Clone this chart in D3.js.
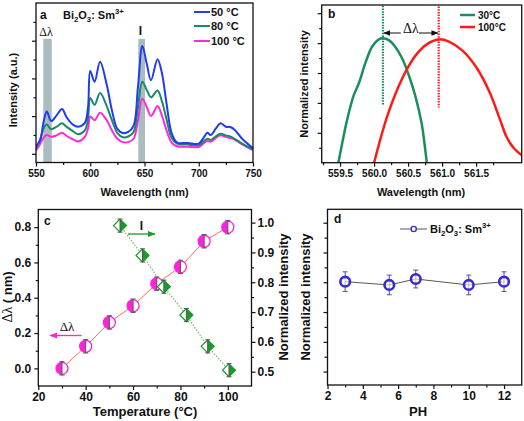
<!DOCTYPE html>
<html><head><meta charset="utf-8">
<script src="https://cdn.jsdelivr.net/npm/d3@7"></script>
<style>
body{margin:0;background:#fff}
svg{display:block}
text{font-family:"Liberation Sans",Arial,sans-serif;font-weight:bold;fill:#111}
.serif{font-family:"Liberation Serif","Times New Roman",serif;font-weight:normal}
</style>
</head><body>
<svg id="fig" width="524" height="421"></svg>
<script>
// ---------- Panel a: emission spectra ----------
const specWl  = [550,554,557,560,564,569,574,578,583,589,595,598,600,604,609,615,620,625,630,635,640,644,648,652,656,662,666,670,675,680,690,700,705,708,711,716,720,725,729,733,740,750];
const spec50  = [0.20,0.37,0.85,1.12,0.87,1.02,1.19,0.98,0.80,0.72,0.82,1.25,2.20,1.91,2.44,1.86,1.15,0.66,0.55,0.58,0.75,1.78,2.86,2.40,1.95,2.51,2.15,1.40,0.55,0.30,0.29,0.27,0.45,0.56,0.50,0.68,0.81,0.72,0.71,0.64,0.40,0.15];
const spec80  = [0.14,0.40,0.68,0.78,0.65,0.72,0.81,0.72,0.62,0.52,0.62,0.95,1.48,1.30,1.61,1.28,0.89,0.55,0.44,0.46,0.58,1.24,1.91,1.70,1.50,1.68,1.40,0.95,0.42,0.27,0.25,0.23,0.34,0.40,0.37,0.47,0.53,0.49,0.46,0.40,0.27,0.12];
const spec100 = [0.09,0.27,0.43,0.50,0.45,0.49,0.56,0.48,0.40,0.33,0.45,0.68,0.99,0.89,1.09,0.90,0.62,0.40,0.31,0.31,0.40,0.89,1.46,1.25,1.00,1.27,1.02,0.65,0.30,0.20,0.19,0.18,0.29,0.34,0.32,0.43,0.49,0.45,0.42,0.38,0.25,0.10];
const specSeries = ["50 °C","80 °C","100 °C"];
const specTicks = [550,600,650,700,750];
const bandDl = [556.7,564.5];
const bandI  = [644.3,650.5];

// ---------- Panel b: normalized peak ----------
const bWl30  = [559.475,559.54,559.60,559.70,559.775,559.87,559.97,560.07,560.13,560.215,560.31,560.41,560.51,560.61,560.70,560.735,560.775];
const bVal30 = [0.00,0.15,0.28,0.45,0.53,0.664,0.776,0.825,0.832,0.82,0.776,0.70,0.586,0.44,0.26,0.15,0.00];
const bWl100  = [560.00,560.10,560.20,560.35,560.50,560.65,560.80,560.95,561.10,561.30,561.50,561.70,561.85,561.95,562.05,562.17];
const bVal100 = [0.00,0.17,0.32,0.50,0.64,0.74,0.80,0.825,0.81,0.75,0.64,0.47,0.29,0.17,0.10,0.05];
const bSeries = ["30°C","100°C"];
const bTicks = [559.5,560.0,560.5,561.0,561.5];
const bPeaks = [560.13,560.95];

// ---------- Panel c: temperature dependence ----------
const cTemp  = [30,40,50,60,70,80,90,100];
const cShift = [0.0,0.125,0.26,0.355,0.48,0.575,0.72,0.80];
const cShiftErr = [0.038,0.038,0.038,0.038,0.038,0.038,0.038,0.038];
const cTempI = [54.5,64,73,82.5,91.5,100.5];
const cInt   = [0.99,0.89,0.785,0.69,0.585,0.505];
const cIntErr = [0.022,0.022,0.022,0.022,0.022,0.022];
const cXTicks = [20,40,60,80,100];
const cLTicks = [0.0,0.2,0.4,0.6,0.8];
const cRTicks = [0.5,0.6,0.7,0.8,0.9,1.0];

// ---------- Panel d: pH stability ----------
const dPH  = [3,5.5,7,10,12];
const dInt = [0.802,0.791,0.811,0.791,0.802];
const dErr = [0.033,0.033,0.030,0.033,0.033];
const dXTicks = [2,4,6,8,10,12];

const svg = d3.select("#fig");
const FONT = '"Liberation Sans",Arial,sans-serif';

function frame(x0,y0,x1,y1){
  svg.append("rect").attr("x",x0).attr("y",y0).attr("width",x1-x0).attr("height",y1-y0)
    .attr("fill","none").attr("stroke","#111").attr("stroke-width",1.3);
}
function drawAxis(axis, tx, ty, fs, minor){
  const g = svg.append("g").attr("transform",`translate(${tx},${ty})`).call(axis);
  g.select(".domain").remove();
  g.selectAll(".tick line").attr("stroke","#111").attr("stroke-width",1.2);
  g.selectAll("text").attr("font-size",fs).attr("font-family",FONT).attr("font-weight","bold").attr("fill","#111");
  if(minor) g.selectAll("text").remove();
  return g;
}
function subText(parent, x, y, fs, anchor){
  const t = parent.append("text").attr("x",x).attr("y",y).attr("font-size",fs).attr("text-anchor",anchor||"start");
  t.append("tspan").text("Bi");
  t.append("tspan").attr("dy",3).attr("font-size",fs*0.7).text("2");
  t.append("tspan").attr("dy",-3).text("O");
  t.append("tspan").attr("dy",3).attr("font-size",fs*0.7).text("3");
  t.append("tspan").attr("dy",-3).text(":  Sm");
  t.append("tspan").attr("dy",-5).attr("font-size",fs*0.7).text("3+");
  return t;
}
svg.append("defs").html(`
<clipPath id="clipA"><rect x="36" y="3" width="217" height="159.5"/></clipPath>
<clipPath id="clipB"><rect x="321.7" y="5" width="200" height="157.7"/></clipPath>
<marker id="arG" viewBox="0 0 10 10" refX="9" refY="5" markerWidth="6" markerHeight="6" orient="auto-start-reverse"><path d="M0,1L10,5L0,9z" fill="#1a9a2a"/></marker>
<marker id="arM" viewBox="0 0 10 10" refX="9" refY="5" markerWidth="6" markerHeight="6" orient="auto-start-reverse"><path d="M0,1L10,5L0,9z" fill="#ff22dd"/></marker>
<marker id="arK" viewBox="0 0 10 10" refX="9" refY="5" markerWidth="7" markerHeight="7" orient="auto-start-reverse"><path d="M0,1L10,5L0,9z" fill="#111"/></marker>
`);

// ================= Panel a =================
{
  const x = d3.scaleLinear([550,750],[36,253]);
  const y = d3.scaleLinear([-0.23,4.0],[162.5,3]);
  const bandTop = 3.05;
  [bandDl,bandI].forEach(b=>{
    svg.append("rect").attr("x",x(b[0])).attr("y",y(bandTop)).attr("width",x(b[1])-x(b[0]))
      .attr("height",y(-0.23)-y(bandTop)).attr("fill","#aabcc0");
  });
  const colors = ["#1f3cf0","#1a8a64","#ff2ad8"];
  const series = [spec50,spec80,spec100];
  const line = d3.line().x((d,i)=>x(specWl[i])).y(d=>y(d)).curve(d3.curveCatmullRom.alpha(0.5));
  const gA = svg.append("g").attr("clip-path","url(#clipA)");
  series.slice().reverse().forEach((s,k)=>{
    const idx = 2-k;
    gA.append("path").attr("d",line(s)).attr("fill","none").attr("stroke",colors[idx]).attr("stroke-width",2);
  });
  drawAxis(d3.axisBottom(x).tickValues(specTicks).tickSize(4).tickPadding(3).tickSizeOuter(0),0,162.5,10);
  drawAxis(d3.axisBottom(x).tickValues([575,625,675,725]).tickSize(2.5).tickSizeOuter(0),0,162.5,10,true);
  drawAxis(d3.axisLeft(y).tickValues([0,1,2,3]).tickSize(4).tickFormat("").tickSizeOuter(0),36,0,10,true);
  drawAxis(d3.axisLeft(y).tickValues([0.5,1.5,2.5,3.5]).tickSize(2.5).tickFormat("").tickSizeOuter(0),36,0,10,true);
  frame(36,3,253,162.5);
  svg.append("text").attr("x",144.5).attr("y",196).attr("font-size",11).attr("text-anchor","middle").text("Wavelength (nm)");
  svg.append("text").attr("transform","translate(17,90) rotate(-90)").attr("font-size",11).attr("text-anchor","middle").text("Intensity (a.u.)");
  svg.append("text").attr("x",40).attr("y",19).attr("font-size",12).text("a");
  subText(svg,63,19,11);
  svg.append("text").attr("class","serif").attr("x",46).attr("y",36).attr("font-size",12).attr("text-anchor","middle").text("Δλ");
  svg.append("text").attr("x",140.5).attr("y",35).attr("font-size",12).attr("text-anchor","middle").text("I");
  const ly = [12,26,41];
  specSeries.forEach((s,i)=>{
    svg.append("line").attr("x1",194).attr("x2",210).attr("y1",ly[i]).attr("y2",ly[i]).attr("stroke",colors[i]).attr("stroke-width",2);
    svg.append("text").attr("x",211).attr("y",ly[i]+4).attr("font-size",11).text(s);
  });
}

// ================= Panel b =================
{
  const x = d3.scaleLinear([559.23,562.17],[321.7,521.7]);
  const y = d3.scaleLinear([0,1.055],[162.7,5]);
  const line = d3.line().curve(d3.curveCatmullRom.alpha(0.5));
  const gB = svg.append("g").attr("clip-path","url(#clipB)");
  gB.append("path").attr("d",line(bWl30.map((w,i)=>[x(w),y(bVal30[i])]))).attr("fill","none").attr("stroke","#1a8f5e").attr("stroke-width",2.5);
  gB.append("path").attr("d",line(bWl100.map((w,i)=>[x(w),y(bVal100[i])]))).attr("fill","none").attr("stroke","#ff1a1a").attr("stroke-width",2.5);
  svg.append("line").attr("x1",x(bPeaks[0])).attr("x2",x(bPeaks[0])).attr("y1",y(1.05)).attr("y2",y(0.385))
    .attr("stroke","#1a8f5e").attr("stroke-width",2.2).attr("stroke-dasharray","1.5,1.2");
  svg.append("line").attr("x1",x(bPeaks[1])).attr("x2",x(bPeaks[1])).attr("y1",y(1.045)).attr("y2",y(0.37))
    .attr("stroke","#ff1a1a").attr("stroke-width",2.2).attr("stroke-dasharray","1.5,1.2");
  const mid = (x(bPeaks[0])+x(bPeaks[1]))/2;
  svg.append("line").attr("x1",mid-10).attr("x2",x(bPeaks[0])+1).attr("y1",33).attr("y2",33).attr("stroke","#111").attr("stroke-width",1).attr("marker-end","url(#arK)");
  svg.append("line").attr("x1",mid+8).attr("x2",x(bPeaks[1])-1).attr("y1",33).attr("y2",33).attr("stroke","#111").attr("stroke-width",1).attr("marker-end","url(#arK)");
  svg.append("text").attr("class","serif").attr("x",mid).attr("y",33).attr("font-size",14).attr("text-anchor","middle").text("Δλ");
  drawAxis(d3.axisBottom(x).tickValues(bTicks).tickSize(4).tickPadding(3).tickFormat(d3.format(".1f")).tickSizeOuter(0),0,162.7,10);
  drawAxis(d3.axisBottom(x).tickValues([559.25,559.75,560.25,560.75,561.25,561.75]).tickSize(2.5).tickSizeOuter(0),0,162.7,10,true);
  drawAxis(d3.axisLeft(y).tickValues([0.2,0.4,0.6,0.8,1.0]).tickSize(4).tickFormat("").tickSizeOuter(0),321.7,0,10,true);
  drawAxis(d3.axisLeft(y).tickValues([0.1,0.3,0.5,0.7,0.9]).tickSize(2.5).tickFormat("").tickSizeOuter(0),321.7,0,10,true);
  frame(321.7,5,521.7,162.7);
  svg.append("text").attr("x",421).attr("y",196).attr("font-size",11).attr("text-anchor","middle").text("Wavelength (nm)");
  svg.append("text").attr("transform","translate(308,84) rotate(-90)").attr("font-size",11).attr("text-anchor","middle").text("Normalized intensity");
  svg.append("text").attr("x",328).attr("y",18).attr("font-size",12).text("b");
  const cols = ["#1a8f5e","#ff1a1a"], ly=[15,27];
  bSeries.forEach((s,i)=>{
    svg.append("line").attr("x1",460).attr("x2",475).attr("y1",ly[i]).attr("y2",ly[i]).attr("stroke",cols[i]).attr("stroke-width",2.5);
    svg.append("text").attr("x",478).attr("y",ly[i]+3.5).attr("font-size",10).text(s);
  });
}

// ================= Panel c =================
{
  const x = d3.scaleLinear([20,110],[38.3,251.5]);
  const yL = d3.scaleLinear([-0.1,0.9],[386,209.5]);
  const yR = d3.scaleLinear([0.452,1.044],[386,209.5]);
  // lines
  svg.append("path").attr("d",d3.line()(cTemp.map((t,i)=>[x(t),yL(cShift[i])]))).attr("fill","none").attr("stroke","#ff6a5a").attr("stroke-width",1);
  svg.append("path").attr("d",d3.line()(cTempI.map((t,i)=>[x(t),yR(cInt[i])]))).attr("fill","none").attr("stroke","#5cb85c").attr("stroke-width",1.1).attr("stroke-dasharray","1.5,1.5");
  // circles
  const r = 6;
  cTemp.forEach((t,i)=>{
    const cx = x(t), cy = yL(cShift[i]);
    svg.append("circle").attr("cx",cx).attr("cy",cy).attr("r",r).attr("fill","#fff").attr("stroke","#ff22dd").attr("stroke-width",1.3);
    svg.append("path").attr("d",`M${cx},${cy-r}A${r},${r} 0 0 0 ${cx},${cy+r}Z`).attr("fill","#ff22dd");
  });
  const s = 6.5;
  cTempI.forEach((t,i)=>{
    const cx = x(t), cy = yR(cInt[i]);
    svg.append("path").attr("d",`M${cx},${cy-s}L${cx+s},${cy}L${cx},${cy+s}L${cx-s},${cy}Z`).attr("fill","#fff").attr("stroke","#1a9a2a").attr("stroke-width",1.2);
    svg.append("path").attr("d",`M${cx},${cy-s}L${cx+s},${cy}L${cx},${cy+s}Z`).attr("fill","#1a9a2a");
  });
  // error bars
  function eb(cx, y0, y1){
    svg.append("line").attr("x1",cx).attr("x2",cx).attr("y1",y0).attr("y2",y1).attr("stroke","#555").attr("stroke-width",1);
    [y0,y1].forEach(yy=>svg.append("line").attr("x1",cx-2.5).attr("x2",cx+2.5).attr("y1",yy).attr("y2",yy).attr("stroke","#555").attr("stroke-width",1));
  }
  cTemp.forEach((t,i)=>eb(x(t), yL(cShift[i]-cShiftErr[i]), yL(cShift[i]+cShiftErr[i])));
  cTempI.forEach((t,i)=>eb(x(t), yR(cInt[i]-cIntErr[i]), yR(cInt[i]+cIntErr[i])));
  // axes
  drawAxis(d3.axisBottom(x).tickValues(cXTicks).tickSize(4).tickPadding(2).tickSizeOuter(0),0,386,12);
  drawAxis(d3.axisBottom(x).tickValues([30,50,70,90]).tickSize(2.5).tickSizeOuter(0),0,386,12,true);
  drawAxis(d3.axisLeft(yL).tickValues(cLTicks).tickSize(4).tickPadding(3).tickFormat(d3.format(".1f")).tickSizeOuter(0),38.3,0,12);
  drawAxis(d3.axisLeft(yL).tickValues([0.1,0.3,0.5,0.7]).tickSize(2.5).tickSizeOuter(0),38.3,0,12,true);
  drawAxis(d3.axisRight(yR).tickValues(cRTicks).tickSize(4).tickPadding(2).tickFormat(d3.format(".1f")).tickSizeOuter(0),251.5,0,12);
  drawAxis(d3.axisRight(yR).tickValues([0.55,0.65,0.75,0.85,0.95]).tickSize(2.5).tickSizeOuter(0),251.5,0,12,true);
  frame(38.3,209.5,251.5,386);
  svg.append("text").attr("x",145).attr("y",416).attr("font-size",13).attr("text-anchor","middle").text("Temperature (°C)");
  const yl = svg.append("text").attr("transform","translate(12,297) rotate(-90)").attr("font-size",13).attr("text-anchor","middle");
  yl.append("tspan").attr("class","serif").attr("font-size",14).text("Δλ");
  yl.append("tspan").text(" ( nm)");
  svg.append("text").attr("transform","translate(288,297) rotate(-90)").attr("font-size",13).attr("text-anchor","middle").text("Normalized intensity");
  svg.append("text").attr("x",44).attr("y",225).attr("font-size",12).text("c");
  svg.append("text").attr("x",141.5).attr("y",230).attr("font-size",12).attr("text-anchor","middle").text("I");
  svg.append("line").attr("x1",128).attr("x2",155).attr("y1",234).attr("y2",234).attr("stroke","#1a9a2a").attr("stroke-width",1.3).attr("marker-end","url(#arG)");
  svg.append("text").attr("class","serif").attr("x",67).attr("y",331).attr("font-size",13).attr("text-anchor","middle").text("Δλ");
  svg.append("line").attr("x1",81.5).attr("x2",50).attr("y1",335.5).attr("y2",335.5).attr("stroke","#ff22dd").attr("stroke-width",1.3).attr("marker-end","url(#arM)");
}

// ================= Panel d =================
{
  const x = d3.scaleLinear([2,13],[327.5,521.7]);
  const y = d3.scaleLinear([0.455,1.045],[385,209.3]);
  svg.append("path").attr("d",d3.line()(dPH.map((p,i)=>[x(p),y(dInt[i])]))).attr("fill","none").attr("stroke","#444").attr("stroke-width",0.9);
  dPH.forEach((p,i)=>{
    const cx=x(p), y0=y(dInt[i]-dErr[i]), y1=y(dInt[i]+dErr[i]);
    svg.append("line").attr("x1",cx).attr("x2",cx).attr("y1",y0).attr("y2",y1).attr("stroke","#5050a0").attr("stroke-width",1);
    [y0,y1].forEach(yy=>svg.append("line").attr("x1",cx-2.5).attr("x2",cx+2.5).attr("y1",yy).attr("y2",yy).attr("stroke","#5050a0").attr("stroke-width",1));
    svg.append("circle").attr("cx",cx).attr("cy",y(dInt[i])).attr("r",4.8).attr("fill","#fff").attr("fill-opacity",0.6).attr("stroke","#3a2bd0").attr("stroke-width",2.6);
  });
  drawAxis(d3.axisBottom(x).tickValues(dXTicks).tickSize(4).tickPadding(2).tickSizeOuter(0),0,385,12);
  drawAxis(d3.axisBottom(x).tickValues([3,5,7,9,11]).tickSize(2.5).tickSizeOuter(0),0,385,12,true);
  drawAxis(d3.axisLeft(y).tickValues([0.5,0.6,0.7,0.8,0.9,1.0]).tickSize(4).tickFormat("").tickSizeOuter(0),327.5,0,12,true);
  drawAxis(d3.axisLeft(y).tickValues([0.55,0.65,0.75,0.85,0.95]).tickSize(3).tickFormat("").tickSizeOuter(0),327.5,0,12,true);
  frame(327.5,209.3,521.7,385);
  svg.append("text").attr("x",418).attr("y",416).attr("font-size",13).attr("text-anchor","middle").text("PH");
  svg.append("text").attr("transform","translate(310,297) rotate(-90)").attr("font-size",13).attr("text-anchor","middle").text("Normalized intensity");
  svg.append("text").attr("x",334).attr("y",223).attr("font-size",12).text("d");
  svg.append("line").attr("x1",400).attr("x2",427).attr("y1",229).attr("y2",229).attr("stroke","#444").attr("stroke-width",0.9);
  svg.append("circle").attr("cx",413.7).attr("cy",229).attr("r",2.6).attr("fill","#fff").attr("stroke","#3a2bd0").attr("stroke-width",1.4);
  subText(svg,430,233,11);
}
</script>
</body></html>
